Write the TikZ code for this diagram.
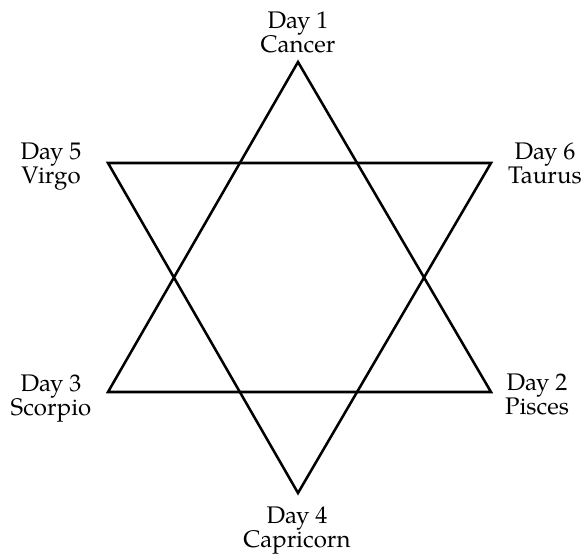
\documentclass[tikz,border=0pt]{standalone}
\usepackage{fontspec}
\setmainfont{TeX Gyre Pagella}
\begin{document}
\begin{tikzpicture}[x=0.75pt,y=-0.75pt,
  starline/.style={line width=1.9pt,line join=miter},
  daylabel/.style={anchor=north,inner sep=0pt,align=center,
    font=\fontsize{18pt}{18pt}\selectfont}]
\useasboundingbox (0,0) rectangle (585,555);
% vertices
\coordinate (t1) at (298,62);
\coordinate (t2) at (491,392);
\coordinate (t3) at (108,392);
\coordinate (u1) at (108,163);
\coordinate (u2) at (491,163);
\coordinate (u3) at (298,493);
\draw[starline] (t1) -- (t2) -- (t3) -- cycle;
\draw[starline] (u1) -- (u2) -- (u3) -- cycle;
% labels
\node[daylabel] (l1) at (298,12) {Day 1\\Cancer};
\node[daylabel] (l5) at (51,143) {Day 5\\Virgo};
\node[daylabel] (l6) at (545,143) {Day 6\\Taurus};
\node[daylabel] (l3) at (51,375) {Day 3\\Scorpio};
\node[daylabel] (l2) at (537,374) {Day 2\\Pisces};
\node[daylabel] (l4) at (297,507) {Day 4\\Capricorn};
\end{tikzpicture}
\end{document}
